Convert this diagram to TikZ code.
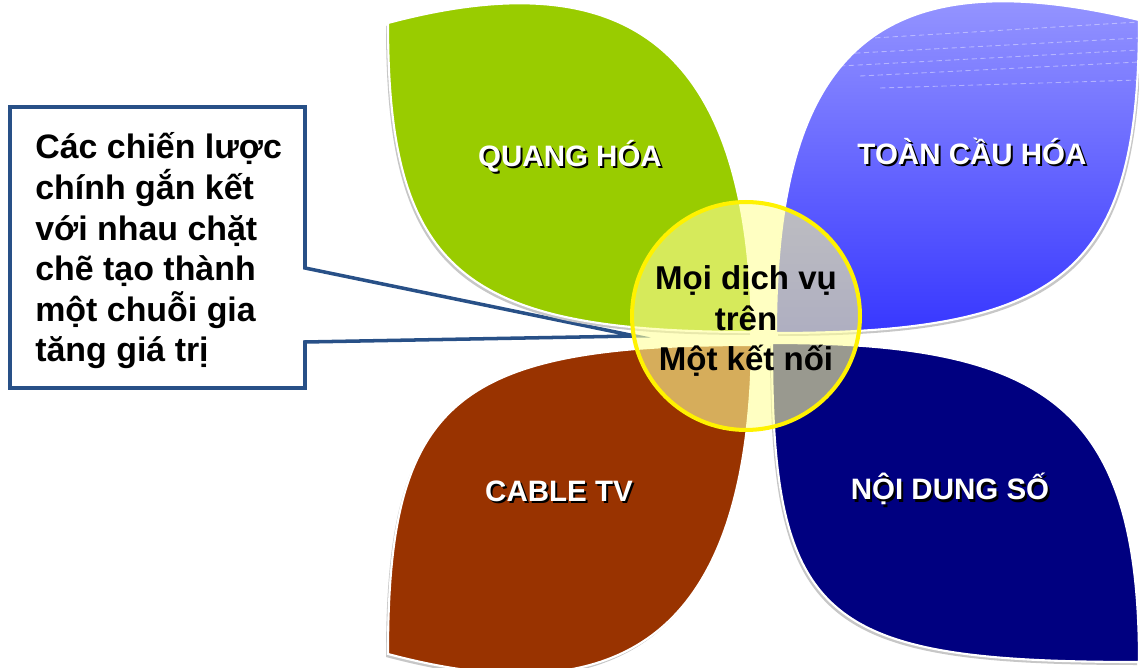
\documentclass[tikz,border=0pt]{standalone}
\usepackage{fontspec}
\setmainfont{Liberation Sans}
\definecolor{leafgreen}{RGB}{153,204,0}
\definecolor{leafbrown}{RGB}{153,51,0}
\definecolor{leafnavy}{RGB}{0,0,128}
\definecolor{leaftop}{RGB}{160,160,255}
\definecolor{leafbot}{RGB}{55,55,255}
\definecolor{noteblue}{RGB}{40,80,135}
\definecolor{hubfill}{RGB}{255,255,153}
\tikzset{
	leaf/.style={draw=white, line width=1.2pt},
	leafshadow/.style={fill=black!22},
	lbl/.style={text=white, anchor=base, inner sep=0pt, font=\fontsize{16.8}{20}\selectfont\bfseries},
	lblshadow/.style={lbl, text=black},
	streak/.style={draw=white, draw opacity=0.4, line width=0.5pt, dash pattern=on 3pt off 2pt},
}
\begin{document}
\begin{tikzpicture}[x=0.02cm, y=-0.02cm]
	\useasboundingbox (0,0) rectangle (1139,668);
	% callout
	\coordinate (tip) at (635,336);
	\draw[draw=noteblue, fill=white, line width=2pt, line join=miter] (10,107) -- (305,107) -- (305,268) -- (tip) -- (305,342) -- (305,388) -- (10,388) -- cycle;
	\node[black, anchor=west, inner sep=0pt, align=left, font=\fontsize{19.3}{23.1}\selectfont\bfseries] (note) at (35,251) {Các chiến lược\\chính gắn kết\\với nhau chặt\\chẽ tạo thành\\một chuỗi gia\\tăng giá trị};
	% shadows
	\fill[leafshadow, shift={(-2,3)}] (388,23) .. controls (639,-44) and (748,60) .. (752,332) .. controls (461,332) and (388,270) .. cycle;
	\fill[leafshadow, shift={(2,3)}] (1139,20) .. controls (878,-43) and (776,51) .. (776,333) .. controls (1066,333) and (1139,270) .. cycle;
	\fill[leafshadow, shift={(-2,3)}] (388,654) .. controls (639,721) and (748,617) .. (752,345) .. controls (454,345) and (388,401) .. cycle;
	\fill[leafshadow, shift={(-2,3)}] (772,343) .. controls (1047,343) and (1139,407) .. (1139,662) .. controls (820,662) and (772,621) .. cycle;
	% leaves
	\path[leaf, fill=leafgreen] (388,23) .. controls (639,-44) and (748,60) .. (752,332) .. controls (461,332) and (388,270) .. cycle;
	\shadedraw[leaf, top color=leaftop, bottom color=leafbot] (1139,20) .. controls (878,-43) and (776,51) .. (776,333) .. controls (1066,333) and (1139,270) .. cycle;
	\begin{scope}
		\clip (1139,20) .. controls (878,-43) and (776,51) .. (776,333) .. controls (1066,333) and (1139,270) .. cycle;
		\draw[streak] (840,40) -- (1139,22);
		\draw[streak] (820,55) -- (1139,38);
		\draw[streak] (840,66) -- (1139,50);
		\draw[streak] (860,76) -- (1139,62);
		\draw[streak] (880,88) -- (1139,80);
	\end{scope}
	\path[leaf, fill=leafbrown] (388,654) .. controls (639,721) and (748,617) .. (752,345) .. controls (454,345) and (388,401) .. cycle;
	\path[leaf, fill=leafnavy] (772,343) .. controls (1047,343) and (1139,407) .. (1139,662) .. controls (820,662) and (772,621) .. cycle;
	% labels
	\node[lblshadow] (qs) at (572,169) {QUANG HÓA};
	\node[lbl] (q) at (570,167) {QUANG HÓA};
	\node[lblshadow] (ts) at (974,167) {TOÀN CẦU HÓA};
	\node[lbl] (t) at (972,165) {TOÀN CẦU HÓA};
	\node[lblshadow] (cs) at (561,503) {CABLE TV};
	\node[lbl] (c) at (559,501) {CABLE TV};
	\node[lblshadow] (ns) at (952,502) {NỘI DUNG SỐ};
	\node[lbl] (n) at (950,500) {NỘI DUNG SỐ};
	% hub
	\node[circle, draw=yellow, line width=2.3pt, fill=hubfill, fill opacity=0.6, minimum size=4.56cm, inner sep=0pt] (hub) at (746,316) {};
	\node[black, inner sep=0pt, align=center, font=\fontsize{18.8}{22.8}\selectfont\bfseries] (hubtext) at (746,321) {Mọi dịch vụ\\trên\\Một kết nối};
\end{tikzpicture}
\end{document}
